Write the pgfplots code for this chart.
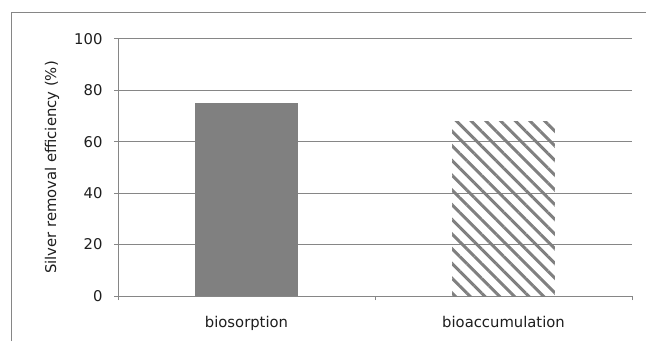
\documentclass[border=0pt]{standalone}
\usepackage{pgfplots}
\pgfplotsset{compat=1.18}
\usepackage{fontspec}
\setmainfont{DejaVu Sans}
\usetikzlibrary{patterns.meta}
\definecolor{bargray}{HTML}{808080}
\definecolor{gridgray}{HTML}{868686}
\definecolor{textcol}{HTML}{1E1E1E}
\begin{document}
\begin{tikzpicture}[x=1bp,y=1bp]
\useasboundingbox (0,0) rectangle (646,341);
\draw[gridgray, line width=1bp] (11,0) -- (11,328) -- (646,328);
\begin{axis}[
  at={(118bp,45bp)}, anchor=south west,
  scale only axis, width=514bp, height=257bp,
  xmin=-0.5, xmax=1.5, ymin=0, ymax=100,
  axis x line*=bottom, axis y line*=left,
  axis line style={gridgray, line width=1bp, -},
  ytick={0,20,...,100},
  xtick={0,1}, xticklabels={biosorption, bioaccumulation},
  major x tick style={draw=none},
  extra x ticks={-0.5,0.5,1.5}, extra x tick labels={},
  extra x tick style={major x tick style={draw=gridgray, line width=1bp}, major tick length=4bp},
  ymajorgrids, grid style={gridgray, line width=1bp},
  tick align=outside, major tick length=4bp,
  ytick style={gridgray, line width=1bp},
  /pgf/number format/assume math mode=true,
  tick label style={font=\fontsize{14.8bp}{17bp}\selectfont, text=textcol},
  label style={font=\fontsize{14.8bp}{17bp}\selectfont, text=textcol},
  ylabel={Silver removal efficiency (\%)},
  ylabel style={at={(axis description cs:0,0.5)}, anchor=center, yshift=66bp},
  xticklabel style={yshift=-13bp},
  yticklabel style={xshift=-8bp},
]
\addplot[ybar, bar width=0.4, bar shift=0, fill=bargray, draw=none] coordinates {(0,75)};
\addplot[ybar, bar width=0.4, bar shift=0, draw=none, pattern={Lines[angle=-45,distance=10.4bp,line width=3bp]}, pattern color=bargray] coordinates {(1,68)};
\end{axis}
\end{tikzpicture}
\end{document}
